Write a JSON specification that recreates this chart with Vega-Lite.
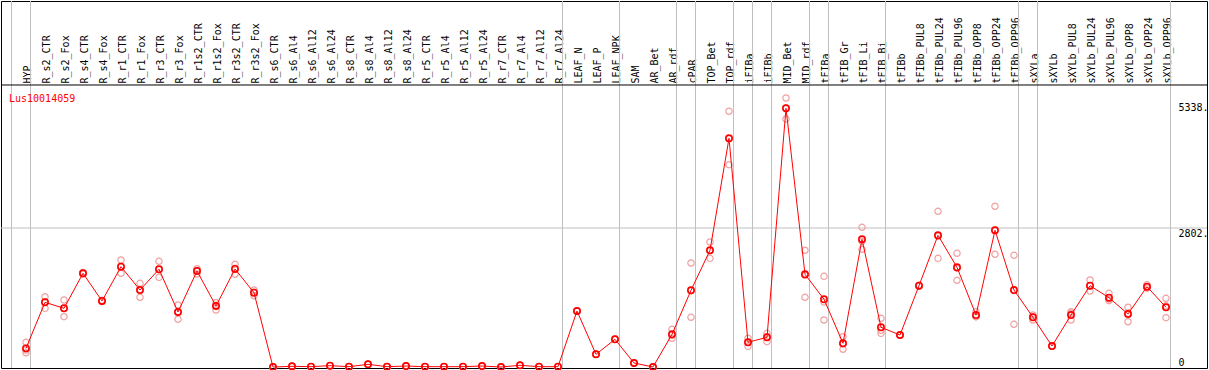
{
  "$schema": "https://vega.github.io/schema/vega-lite/v6.json",
  "width": 1206,
  "height": 367,
  "autosize": {"type": "none"},
  "padding": {"left": 1, "top": 1, "right": 2, "bottom": 2},
  "background": "white",
  "config": {"view": {"stroke": "black", "strokeWidth": 1}, "font": "DejaVu Sans Mono"},
  "title": {"text": "Lus10014059", "anchor": "start", "frame": "group", "orient": "top", "offset": -111, "dx": 8, "color": "#ff0000", "font": "DejaVu Sans Mono", "fontSize": 10, "fontWeight": "normal", "baseline": "alphabetic"},
  "data": {"values": [
    {"cat": "HYP", "mean": 376, "r1": 498, "r2": 343, "r3": 288, "g": 1},
    {"cat": "R_s2_CTR", "mean": 1304, "r1": 1417, "r2": 1183, "r3": 1312, "g": 0},
    {"cat": "R_s2_Fox", "mean": 1183, "r1": 1351, "r2": 1014, "r3": 1184, "g": 0},
    {"cat": "R_s4_CTR", "mean": 1889, "r1": 1905, "r2": 1875, "r3": 1887, "g": 0},
    {"cat": "R_s4_Fox", "mean": 1331, "r1": 1318, "r2": 1345, "r3": 1330, "g": 0},
    {"cat": "R_r1_CTR", "mean": 2022, "r1": 2157, "r2": 1889, "r3": 2020, "g": 0},
    {"cat": "R_r1_Fox", "mean": 1552, "r1": 1687, "r2": 1405, "r3": 1564, "g": 0},
    {"cat": "R_r3_CTR", "mean": 1970, "r1": 2131, "r2": 1808, "r3": 1971, "g": 0},
    {"cat": "R_r3_Fox", "mean": 1109, "r1": 1250, "r2": 962, "r3": 1115, "g": 0},
    {"cat": "R_r1s2_CTR", "mean": 1935, "r1": 1982, "r2": 1875, "r3": 1948, "g": 0},
    {"cat": "R_r1s2_Fox", "mean": 1230, "r1": 1296, "r2": 1149, "r3": 1245, "g": 0},
    {"cat": "R_r3s2_CTR", "mean": 1976, "r1": 2070, "r2": 1869, "r3": 1989, "g": 0},
    {"cat": "R_r3s2_Fox", "mean": 1498, "r1": 1552, "r2": 1437, "r3": 1505, "g": 0},
    {"cat": "R_s6_CTR", "mean": 0, "r1": 0, "r2": 0, "r3": 0, "g": 0},
    {"cat": "R_s6_Al4", "mean": 14, "r1": 14, "r2": 14, "r3": 14, "g": 0},
    {"cat": "R_s6_Al12", "mean": 7, "r1": 7, "r2": 7, "r3": 7, "g": 0},
    {"cat": "R_s6_Al24", "mean": 27, "r1": 27, "r2": 27, "r3": 27, "g": 0},
    {"cat": "R_s8_CTR", "mean": 7, "r1": 7, "r2": 7, "r3": 7, "g": 0},
    {"cat": "R_s8_Al4", "mean": 54, "r1": 54, "r2": 54, "r3": 54, "g": 0},
    {"cat": "R_s8_Al12", "mean": 7, "r1": 7, "r2": 7, "r3": 7, "g": 0},
    {"cat": "R_s8_Al24", "mean": 20, "r1": 20, "r2": 20, "r3": 20, "g": 0},
    {"cat": "R_r5_CTR", "mean": 7, "r1": 7, "r2": 7, "r3": 7, "g": 0},
    {"cat": "R_r5_Al4", "mean": 7, "r1": 7, "r2": 7, "r3": 7, "g": 0},
    {"cat": "R_r5_Al12", "mean": 7, "r1": 7, "r2": 7, "r3": 7, "g": 0},
    {"cat": "R_r5_Al24", "mean": 20, "r1": 20, "r2": 20, "r3": 20, "g": 0},
    {"cat": "R_r7_CTR", "mean": 0, "r1": 0, "r2": 0, "r3": 0, "g": 0},
    {"cat": "R_r7_Al4", "mean": 34, "r1": 34, "r2": 34, "r3": 34, "g": 0},
    {"cat": "R_r7_Al12", "mean": 7, "r1": 7, "r2": 7, "r3": 7, "g": 0},
    {"cat": "R_r7_Al24", "mean": 7, "r1": 7, "r2": 7, "r3": 7, "g": 1},
    {"cat": "LEAF_N", "mean": 1129, "r1": 1129, "r2": 1129, "r3": 1129, "g": 0},
    {"cat": "LEAF_P", "mean": 256, "r1": 256, "r2": 256, "r3": 256, "g": 0},
    {"cat": "LEAF_NPK", "mean": 558, "r1": 558, "r2": 558, "r3": 558, "g": 1},
    {"cat": "SAM", "mean": 81, "r1": 81, "r2": 81, "r3": 81, "g": 0},
    {"cat": "AR_Bet", "mean": 0, "r1": 0, "r2": 0, "r3": 0, "g": 0},
    {"cat": "AR_rdf", "mean": 659, "r1": 760, "r2": 579, "r3": 640, "g": 1},
    {"cat": "cPAR", "mean": 1546, "r1": 2097, "r2": 1002, "r3": 1539, "g": 1},
    {"cat": "TOP_Bet", "mean": 2353, "r1": 2520, "r2": 2191, "r3": 2348, "g": 0},
    {"cat": "TOP_rdf", "mean": 4611, "r1": 5155, "r2": 4078, "r3": 4600, "g": 1},
    {"cat": "iFIBa", "mean": 498, "r1": 579, "r2": 417, "r3": 498, "g": 1},
    {"cat": "iFIBb", "mean": 599, "r1": 679, "r2": 511, "r3": 607, "g": 1},
    {"cat": "MID_Bet", "mean": 5215, "r1": 5423, "r2": 5000, "r3": 5222, "g": 0},
    {"cat": "MID_rdf", "mean": 1869, "r1": 2353, "r2": 1405, "r3": 1849, "g": 1},
    {"cat": "tFIBa", "mean": 1365, "r1": 1828, "r2": 1310, "r3": 948, "g": 1},
    {"cat": "tFIB_Gr", "mean": 478, "r1": 611, "r2": 357, "r3": 466, "g": 0},
    {"cat": "tFIB_Li", "mean": 2574, "r1": 2816, "r2": 2373, "r3": 2533, "g": 0},
    {"cat": "tFIB_Bi", "mean": 800, "r1": 982, "r2": 679, "r3": 740, "g": 1},
    {"cat": "tFIBb", "mean": 645, "r1": 645, "r2": 645, "r3": 645, "g": 0},
    {"cat": "tFIBb_PUL8", "mean": 1639, "r1": 1650, "r2": 1628, "r3": 1639, "g": 0},
    {"cat": "tFIBb_PUL24", "mean": 2655, "r1": 3139, "r2": 2191, "r3": 2635, "g": 0},
    {"cat": "tFIBb_PUL96", "mean": 2010, "r1": 2292, "r2": 1748, "r3": 1990, "g": 0},
    {"cat": "tFIBb_OPP8", "mean": 1048, "r1": 1116, "r2": 1014, "r3": 1014, "g": 0},
    {"cat": "tFIBb_OPP24", "mean": 2756, "r1": 3240, "r2": 2272, "r3": 2756, "g": 0},
    {"cat": "tFIBb_OPP96", "mean": 1552, "r1": 2252, "r2": 861, "r3": 1543, "g": 1},
    {"cat": "sXYLa", "mean": 1002, "r1": 1048, "r2": 948, "r3": 1010, "g": 1},
    {"cat": "sXYLb", "mean": 423, "r1": 423, "r2": 423, "r3": 423, "g": 0},
    {"cat": "sXYLb_PUL8", "mean": 1048, "r1": 1115, "r2": 948, "r3": 1081, "g": 0},
    {"cat": "sXYLb_PUL24", "mean": 1639, "r1": 1754, "r2": 1532, "r3": 1631, "g": 0},
    {"cat": "sXYLb_PUL96", "mean": 1397, "r1": 1486, "r2": 1337, "r3": 1368, "g": 0},
    {"cat": "sXYLb_OPP8", "mean": 1068, "r1": 1204, "r2": 913, "r3": 1087, "g": 0},
    {"cat": "sXYLb_OPP24", "mean": 1619, "r1": 1660, "r2": 1590, "r3": 1607, "g": 0},
    {"cat": "sXYLb_OPP96", "mean": 1204, "r1": 1385, "r2": 994, "r3": 1233, "g": 1}
  ]},
  "layer": [
    {
      "transform": [{"filter": "datum.g == 1"}],
      "mark": {"type": "rule", "color": "#c0c0c0", "strokeWidth": 1, "xOffset": 4.5},
      "encoding": {
        "x": {"field": "cat", "type": "nominal",
          "scale": {"type": "point", "padding": 0, "range": [25, 1165], "domain": ["HYP","R_s2_CTR","R_s2_Fox","R_s4_CTR","R_s4_Fox","R_r1_CTR","R_r1_Fox","R_r3_CTR","R_r3_Fox","R_r1s2_CTR","R_r1s2_Fox","R_r3s2_CTR","R_r3s2_Fox","R_s6_CTR","R_s6_Al4","R_s6_Al12","R_s6_Al24","R_s8_CTR","R_s8_Al4","R_s8_Al12","R_s8_Al24","R_r5_CTR","R_r5_Al4","R_r5_Al12","R_r5_Al24","R_r7_CTR","R_r7_Al4","R_r7_Al12","R_r7_Al24","LEAF_N","LEAF_P","LEAF_NPK","SAM","AR_Bet","AR_rdf","cPAR","TOP_Bet","TOP_rdf","iFIBa","iFIBb","MID_Bet","MID_rdf","tFIBa","tFIB_Gr","tFIB_Li","tFIB_Bi","tFIBb","tFIBb_PUL8","tFIBb_PUL24","tFIBb_PUL96","tFIBb_OPP8","tFIBb_OPP24","tFIBb_OPP96","sXYLa","sXYLb","sXYLb_PUL8","sXYLb_PUL24","sXYLb_PUL96","sXYLb_OPP8","sXYLb_OPP24","sXYLb_OPP96"]},
          "axis": {"orient": "top", "title": null, "domain": false, "ticks": false, "grid": false, "labelAngle": 270, "labelAlign": "left", "labelBaseline": "alphabetic", "labelPadding": -82, "labelOffset": 4.5, "labelFont": "DejaVu Sans Mono", "labelFontSize": 10, "labelColor": "black", "labelOverlap": false, "labelBound": false, "labelFlush": false}
        }
      }
    },
    {
      "data": {"values": [{"c": "HYP"}]},
      "mark": {"type": "rule", "color": "#c0c0c0", "strokeWidth": 1, "xOffset": -14.5},
      "encoding": {"x": {"field": "c", "type": "nominal"}}
    },
    {
      "data": {"values": [{"v": 2802}]},
      "mark": {"type": "rule", "color": "#c0c0c0", "strokeWidth": 1},
      "encoding": {"y": {"field": "v", "type": "quantitative"}}
    },
    {
      "data": {"values": [{"v": 5685}]},
      "mark": {"type": "rule", "color": "black", "strokeWidth": 1},
      "encoding": {"y": {"field": "v", "type": "quantitative"}}
    },
    {
      "transform": [{"fold": ["r1", "r2", "r3"], "as": ["rep", "val"]}],
      "mark": {"type": "point", "shape": "circle", "filled": false, "size": 40, "stroke": "#f0a0a0", "strokeWidth": 1.2, "opacity": 1},
      "encoding": {
        "x": {"field": "cat", "type": "nominal"},
        "y": {"field": "val", "type": "quantitative"}
      }
    },
    {
      "mark": {"type": "line", "color": "#ff0000", "strokeWidth": 1},
      "encoding": {
        "x": {"field": "cat", "type": "nominal"},
        "y": {"field": "mean", "type": "quantitative",
          "scale": {"domain": [-20, 7378], "nice": false, "zero": false},
          "axis": {"orient": "right", "title": null, "values": [0, 2802, 5338], "format": "d", "labelExpr": "datum.value == 0 ? '0' : datum.label + '.'", "domain": false, "ticks": false, "grid": false, "labelPadding": -29, "labelAlign": "left", "labelBaseline": {"condition": {"test": "datum.value == 0", "value": "bottom"}, "value": "top"}, "labelFont": "DejaVu Sans Mono", "labelFontSize": 10, "labelColor": "black", "labelFlush": false, "labelBound": false, "labelOverlap": false}
        }
      }
    },
    {
      "mark": {"type": "point", "shape": "circle", "filled": false, "size": 40, "stroke": "#ff0000", "strokeWidth": 1.6, "opacity": 1},
      "encoding": {
        "x": {"field": "cat", "type": "nominal"},
        "y": {"field": "mean", "type": "quantitative"}
      }
    }
  ]
}
